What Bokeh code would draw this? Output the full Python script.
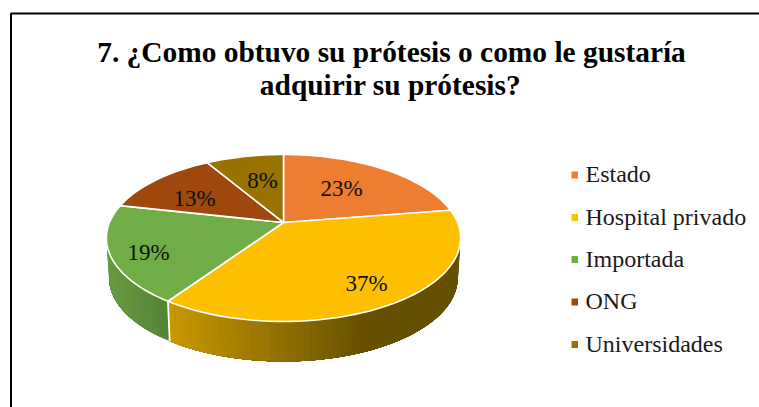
import math
from bokeh.plotting import figure
from bokeh.models import Range1d
from bokeh.core.properties import value
from bokeh.embed import file_html
from bokeh.resources import INLINE

# --- data ---
categories = ["Estado", "Hospital privado", "Importada", "ONG", "Universidades"]
shares = [23, 37, 19, 13, 8]
colors = ["#ED7D31", "#FDBF00", "#70AD47", "#9E480E", "#997300"]
title_lines = ["7. ¿Como obtuvo su prótesis o como le gustaría", "adquirir su prótesis?"]

# --- layout (page pixels) ---
W, H = 759, 407
SERIF = value("Liberation Serif")
CX, CY = 283.0, 222.0      # projected pie centre
KX = 174.0                 # horizontal radius
PY_A, PY_C = -39.4, 0.1856 # projective tilt
DEPTH, SHRINK = 40.0, 0.985
TWIST = -0.5               # small angular correction of the inner boundaries

p = figure(width=W, height=H, output_backend="svg", toolbar_location=None,
           x_range=Range1d(0, W), y_range=Range1d(H, 0),
           min_border=0, outline_line_color=None, background_fill_color="white",
           border_fill_color="white")
p.axis.visible = False
p.grid.visible = False


def rim(share):
    """Projected point of the pie rim at a cumulative share (0-100)."""
    t = math.radians(share * 3.6)
    u, v = math.sin(t), math.cos(t)
    d = 1 + PY_C * v
    return CX + KX * u / d, (PY_A * v + CY) / d


def lower(share):
    x, y = rim(share)
    return CX + (x - CX) * SHRINK, y + DEPTH


def lerp_hex(a, b, f):
    f = max(0.0, min(1.0, f))
    ca = [int(a[i:i + 2], 16) for i in (1, 3, 5)]
    cb = [int(b[i:i + 2], 16) for i in (1, 3, 5)]
    return "#" + "".join(f"{round(x + (y - x) * f):02x}" for x, y in zip(ca, cb))


# frame
p.line([10.5, 10.5, W], [H, 13, 13], line_color="black", line_width=2)

# cumulative boundaries
bounds = [0]
for s in shares:
    bounds.append(bounds[-1] + s)
bounds = [b + TWIST if 0 < b < 100 else b for b in bounds]

# side wall: gradient bands, each one overlapping the next
wall_stops = {
    1: (("#C89800", 170), ("#665000", 365)),
    2: (("#659A40", 110), ("#558236", 168)),
}
for i, stops in wall_stops.items():
    (c0, x0), (c1, x1) = stops
    start, end = bounds[i], bounds[i + 1]
    n = int((end - start) * 2)
    for k in range(n):
        a = start + (end - start) * k / n
        m = 12
        top = [rim(a + (end - a) * j / m) for j in range(m + 1)]
        bot = [lower(a + (end - a) * j / m) for j in range(m, -1, -1)]
        b = start + (end - start) * (k + 0.5) / n
        col = lerp_hex(c0, c1, (rim(b)[0] - x0) / (x1 - x0))
        p.patch([q[0] for q in top + bot], [q[1] for q in top + bot],
                fill_color=col, line_color=None)

# divider on the wall between Hospital privado and Importada
xa, ya = rim(bounds[2])
xd, yd = lower(bounds[2])
p.line([xa, xd], [ya, yd], line_color="white", line_width=1.8)

# top face
for i, col in enumerate(colors):
    start, end = bounds[i], bounds[i + 1]
    n = max(8, int((end - start) * 2))
    pts = [rim(start + (end - start) * k / n) for k in range(n + 1)]
    xs = [CX] + [q[0] for q in pts]
    ys = [CY] + [q[1] for q in pts]
    p.patch(xs, ys, fill_color=col, line_color="white", line_width=1.6,
            line_join="round")

# data labels
label_x = [341, 366, 148, 194, 262]
label_y = [188, 283, 252, 198, 180]
p.text(label_x, label_y, text=[f"{s}%" for s in shares], text_font=SERIF,
       text_font_size="23px", text_align="center", text_baseline="middle",
       text_color="#111111")

# title
p.text([391, 390], [51, 84.5], text=title_lines, text_font=SERIF,
       text_font_style="bold", text_font_size="29.4px", text_align="center",
       text_baseline="middle", text_color="black")

# legend
leg_y = [174.5, 217, 259, 301.5, 344]
p.rect([574.3] * 5, leg_y, width=6.5, height=7, fill_color=colors, line_color=None)
p.text([585] * 5, [y - 1 for y in leg_y], text=categories, text_font=SERIF,
       text_font_size="24px", text_align="left", text_baseline="middle",
       text_color="#1a1a1a")

open("out.html", "w").write(file_html(p, INLINE))
